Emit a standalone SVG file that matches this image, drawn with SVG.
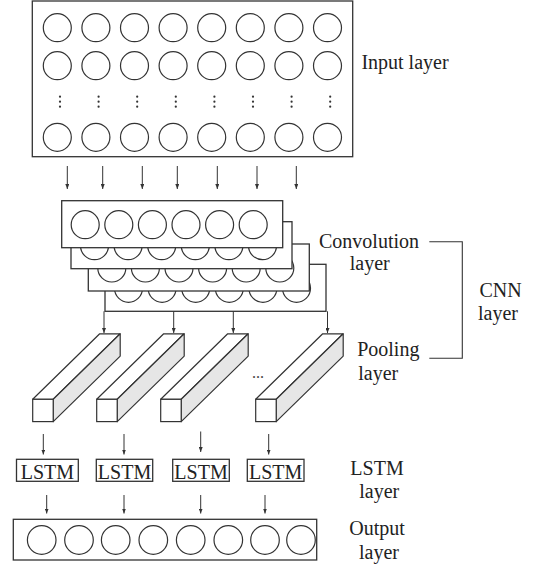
<svg xmlns="http://www.w3.org/2000/svg" width="538" height="567" viewBox="0 0 538 567">
<defs>
<style>
.ln{stroke:#333;stroke-width:1.1;fill:none}
.bx{stroke:#333;stroke-width:1.3;fill:#fff}
.cr{stroke:#333;stroke-width:1.2;fill:#fff}
.ar{stroke:#333;stroke-width:1;fill:none;marker-end:url(#ah)}
.side{stroke:#333;stroke-width:1.2;fill:#e6e6e6;stroke-linejoin:round}
.top{stroke:#333;stroke-width:1.2;fill:#fff;stroke-linejoin:round}
.t{font-family:"Liberation Serif","Times New Roman",serif;font-size:20px;fill:#222;text-anchor:middle}
.dot{fill:#333}
</style>
<marker id="ah" markerUnits="userSpaceOnUse" markerWidth="5" markerHeight="4" refX="5" refY="2" orient="auto">
<path d="M0,0 L5,2 L0,4 Z" fill="#333"/>
</marker>
<g id="inrow">
<circle class="cr" cx="57.3" cy="0" r="14"/>
<circle class="cr" cx="95.9" cy="0" r="14"/>
<circle class="cr" cx="134.5" cy="0" r="14"/>
<circle class="cr" cx="173.1" cy="0" r="14"/>
<circle class="cr" cx="211.7" cy="0" r="14"/>
<circle class="cr" cx="250.3" cy="0" r="14"/>
<circle class="cr" cx="288.9" cy="0" r="14"/>
<circle class="cr" cx="327.5" cy="0" r="14"/>
</g>
<g id="vdots">
<circle class="dot" cx="0" cy="-5" r="1.1"/>
<circle class="dot" cx="0" cy="0" r="1.1"/>
<circle class="dot" cx="0" cy="5" r="1.1"/>
</g>
<g id="conv">
<rect class="bx" x="0" y="0" width="221" height="47"/>
<circle class="cr" cx="23.5" cy="24" r="14"/>
<circle class="cr" cx="57.1" cy="24" r="14"/>
<circle class="cr" cx="90.7" cy="24" r="14"/>
<circle class="cr" cx="124.3" cy="24" r="14"/>
<circle class="cr" cx="157.9" cy="24" r="14"/>
<circle class="cr" cx="191.5" cy="24" r="14"/>
</g>
<g id="bar">
<polygon class="top" points="0,0 67,-65.5 87.5,-65.5 20.5,0"/>
<polygon class="side" points="20.5,0 87.5,-65.5 87.5,-43.2 20.5,22.3"/>
<rect class="bx" x="0" y="0" width="20.5" height="22.3" style="stroke-width:1.2"/>
</g>
</defs>

<g id="input-layer">
<rect class="bx" x="32.3" y="1" width="320.4" height="155.7"/>
<use href="#inrow" y="27.7"/>
<use href="#inrow" y="65.7"/>
<use href="#inrow" y="137.3"/>
<use href="#vdots" x="60" y="101.7"/>
<use href="#vdots" x="98.6" y="101.7"/>
<use href="#vdots" x="137.2" y="101.7"/>
<use href="#vdots" x="175.8" y="101.7"/>
<use href="#vdots" x="214.4" y="101.7"/>
<use href="#vdots" x="253" y="101.7"/>
<use href="#vdots" x="291.6" y="101.7"/>
<use href="#vdots" x="330.2" y="101.7"/>
<text class="t" x="405" y="69">Input layer</text>
</g>

<g id="convolution-layer">
<use href="#conv" x="105" y="264.3"/>
<use href="#conv" x="88.3" y="244"/>
<use href="#conv" x="71" y="221.7"/>
<use href="#conv" x="61.7" y="200.7"/>
<text class="t" x="369" y="248">Convolution</text>
<text class="t" x="369.7" y="270">layer</text>
</g>

<g id="pooling-layer">
<use href="#bar" x="32.7" y="399.3"/>
<use href="#bar" x="96.7" y="399.3"/>
<use href="#bar" x="160.7" y="399.3"/>
<use href="#bar" x="255.7" y="399.3"/>
<text x="258" y="378" style="font-family:'Liberation Serif',serif;font-size:16px;fill:#444;text-anchor:middle">...</text>
<text class="t" x="388.3" y="355.5">Pooling</text>
<text class="t" x="378.3" y="379.5">layer</text>
</g>

<g id="cnn-layer">
<path class="ln" d="M429.3,241.7 H462.3 V358.3 H429.3"/>
<text class="t" x="500.5" y="296.5">CNN</text>
<text class="t" x="498" y="319.5">layer</text>
</g>

<g id="lstm-layer">
<rect class="bx" x="16.5" y="459.3" width="61.8" height="22"/>
<rect class="bx" x="96.3" y="459.3" width="56.4" height="22"/>
<rect class="bx" x="172.7" y="459.3" width="56.6" height="22"/>
<rect class="bx" x="247.3" y="459.3" width="56.7" height="22"/>
<text class="t" x="47.4" y="479">LSTM</text>
<text class="t" x="124.5" y="479">LSTM</text>
<text class="t" x="201" y="479">LSTM</text>
<text class="t" x="275.7" y="479">LSTM</text>
<text class="t" x="377" y="475">LSTM</text>
<text class="t" x="379.3" y="498">layer</text>
</g>

<g id="output-layer">
<rect class="bx" x="13.3" y="519.3" width="303.4" height="40.7"/>
<circle class="cr" cx="41.7" cy="540" r="14.3"/>
<circle class="cr" cx="79" cy="540" r="14.3"/>
<circle class="cr" cx="115.7" cy="540" r="14.3"/>
<circle class="cr" cx="153.3" cy="540" r="14.3"/>
<circle class="cr" cx="190.7" cy="540" r="14.3"/>
<circle class="cr" cx="228.3" cy="540" r="14.3"/>
<circle class="cr" cx="265" cy="540" r="14.3"/>
<circle class="cr" cx="301" cy="540" r="14.3"/>
<text class="t" x="377" y="535">Output</text>
<text class="t" x="379" y="559">layer</text>
</g>

<g id="connectors">
<path class="ar" d="M67.3,166 V189"/>
<path class="ar" d="M102.7,166 V189"/>
<path class="ar" d="M142.3,166 V189"/>
<path class="ar" d="M177.3,166 V189"/>
<path class="ar" d="M217.3,166 V189"/>
<path class="ar" d="M257,166 V189"/>
<path class="ar" d="M296.3,166 V189"/>
<path class="ar" d="M104,311.3 V333"/>
<path class="ar" d="M173.7,311.3 V333"/>
<path class="ar" d="M233.3,311.3 V333"/>
<path class="ar" d="M327.5,311.3 V333"/>
<path class="ar" d="M43.3,434 V454.5"/>
<path class="ar" d="M124,434 V454.5"/>
<path class="ar" d="M200.7,431.5 V452"/>
<path class="ar" d="M268.7,434 V454.5"/>
<path class="ar" d="M46.7,495 V513.5"/>
<path class="ar" d="M124,495 V513.5"/>
<path class="ar" d="M200.7,495 V513.5"/>
<path class="ar" d="M265,495 V513.5"/>
</g>
</svg>
